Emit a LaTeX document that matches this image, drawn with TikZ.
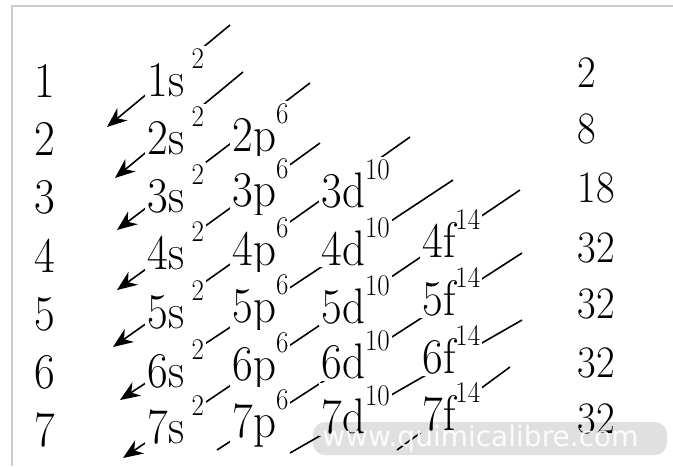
\documentclass[tikz,border=0pt]{standalone}
\usepackage{graphicx}
\usepackage{fontspec}
\newfontfamily\wmfont{DejaVu Sans}
\usetikzlibrary{arrows.meta,backgrounds}

\newcommand{\cond}[1]{\scalebox{0.9}[1]{#1}}
\newcommand{\ex}[1]{\raisebox{14pt}{\fontsize{15}{15}\selectfont #1}}

\begin{document}
\begin{tikzpicture}[
  x=0.5pt, y=-0.5pt,
  shell/.style={anchor=base, inner sep=0pt, font=\fontsize{25}{30}\selectfont},
  total/.style={anchor=base west, inner sep=0pt, font=\fontsize{22.5}{27}\selectfont},
  orb/.style={anchor=base west, inner sep=1pt, fill=white,
    font=\fontsize{25}{30}\selectfont},
  diag/.style={line width=0.8pt, -{Stealth[length=10pt, width=8pt]}},
  tail/.style={line width=0.8pt},
]
  \useasboundingbox (0,0) rectangle (673,466);
  \draw[gray!40, line width=1pt] (12,466) -- (12,6) -- (673,6);

  % shell numbers
  \node[shell] (n1) at (45,97) {\cond{1}};
  \node[shell] (n2) at (45,155) {\cond{2}};
  \node[shell] (n3) at (45,213) {\cond{3}};
  \node[shell] (n4) at (45,272) {\cond{4}};
  \node[shell] (n5) at (45,330) {\cond{5}};
  \node[shell] (n6) at (45,388) {\cond{6}};
  \node[shell] (n7) at (45,446) {\cond{7}};

  % orbitals
  \node[orb] (o1s) at (145,96) {\cond{1s\,\ex{2}}};
  \node[orb] (o2s) at (145,154) {\cond{2s\,\ex{2}}};
  \node[orb] (o3s) at (145,212) {\cond{3s\,\ex{2}}};
  \node[orb] (o4s) at (145,269) {\cond{4s\,\ex{2}}};
  \node[orb] (o5s) at (145,328) {\cond{5s\,\ex{2}}};
  \node[orb] (o6s) at (145,387) {\cond{6s\,\ex{2}}};
  \node[orb] (o7s) at (145,443) {\cond{7s\,\ex{2}}};

  \node[orb] (o2p) at (230,151) {\cond{2p\ex{6}}};
  \node[orb] (o3p) at (230,206) {\cond{3p\ex{6}}};
  \node[orb] (o4p) at (230,265) {\cond{4p\ex{6}}};
  \node[orb] (o5p) at (230,322) {\cond{5p\ex{6}}};
  \node[orb] (o6p) at (230,380) {\cond{6p\ex{6}}};
  \node[orb] (o7p) at (230,437) {\cond{7p\ex{6}}};

  \node[orb] (o3d) at (319,207) {\cond{3d\ex{10}}};
  \node[orb] (o4d) at (319,265) {\cond{4d\ex{10}}};
  \node[orb] (o5d) at (319,323) {\cond{5d\ex{10}}};
  \node[orb] (o6d) at (319,378) {\cond{6d\ex{10}}};
  \node[orb] (o7d) at (319,433) {\cond{7d\ex{10}}};

  \node[orb] (o4f) at (420,257) {\cond{4f\ex{14}}};
  \node[orb] (o5f) at (420,315) {\cond{5f\ex{14}}};
  \node[orb] (o6f) at (420,373) {\cond{6f\ex{14}}};
  \node[orb] (o7f) at (420,430) {\cond{7f\ex{14}}};

  % electrons per shell
  \node[total] (m1) at (577,87) {\cond{2}};
  \node[total] (m2) at (577,143) {\cond{8}};
  \node[total] (m3) at (577,202) {\cond{18}};
  \node[total] (m4) at (577,262) {\cond{32}};
  \node[total] (m5) at (577,318) {\cond{32}};
  \node[total] (m6) at (577,377) {\cond{32}};
  \node[total] (m7) at (577,433) {\cond{32}};

  % filling order
  \coordinate (top1) at (230,25);   \coordinate (tip1) at (107,127);
  \coordinate (top2) at (243,72);   \coordinate (tip2) at (115,178);
  \coordinate (top3) at (310,83);   \coordinate (tip3) at (117,230);
  \coordinate (top4) at (320,143);  \coordinate (tip4) at (117,290);
  \coordinate (top5) at (410,137);  \coordinate (tip5) at (113,347);
  \coordinate (top6) at (453,180);  \coordinate (tip6) at (120,400);
  \coordinate (top7) at (520,190);  \coordinate (tip7) at (123,458);
  \coordinate (top8) at (522,253);  \coordinate (tip8) at (217,450);
  \coordinate (top9) at (522,320);  \coordinate (tip9) at (290,453);
  \coordinate (top10) at (510,367); \coordinate (tip10) at (397,450);

  \begin{scope}[on background layer]
    \foreach \i in {1,...,7}
      \draw[diag] (top\i) -- (tip\i);
    \foreach \i in {8,9,10}
      \draw[tail] (top\i) -- (tip\i);
  \end{scope}

  % watermark
  \fill[black, opacity=0.12, rounded corners=6pt] (313,422) rectangle (667,455);
  \node[white, opacity=0.9, anchor=base west, inner sep=0pt,
    font=\wmfont\fontsize{14}{14}\selectfont] (wm) at (322,446) {www.quimicalibre.com};
\end{tikzpicture}
\end{document}
